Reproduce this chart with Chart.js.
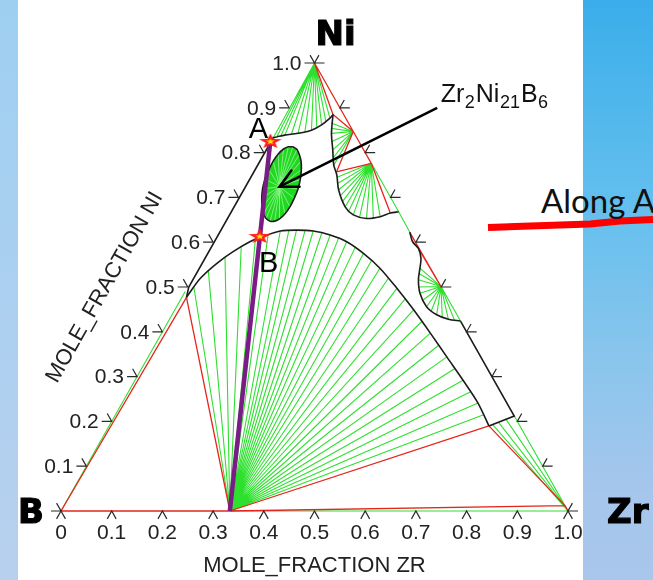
<!DOCTYPE html>
<html lang="en">
<head>
<meta charset="utf-8">
<title>B–Ni–Zr isothermal section</title>
<script src="https://cdn.jsdelivr.net/npm/chart.js@4.4.1/dist/chart.umd.min.js"></script>
<style>
  html, body { margin: 0; padding: 0; }
  body {
    position: relative; width: 653px; height: 580px; overflow: hidden;
    background: linear-gradient(to bottom, #3aadea 0%, #52b8ec 20%, #67c0ee 38%, #8ac5ec 62%, #a6c6ec 85%, #a9c6ec 100%);
  }
  #strip { position: absolute; left: 0; top: 0; width: 18px; height: 580px; background: linear-gradient(to bottom, #9ecff2, #b8d0ee); }
  #panel { position: absolute; left: 18px; top: 0; width: 565px; height: 580px; background: #fff; }
  #marker { position: absolute; left: 0; top: 0; }
  #along {
    position: absolute; left: 541px; top: 184px;
    font-family: Lato, "Open Sans", sans-serif; font-size: 33px; line-height: 33px;
    color: #111; white-space: nowrap;
  }
  #chart { position: absolute; left: 0; top: 0; }
</style>
</head>
<body>
<div id="strip"></div>
<div id="panel"></div>
<svg id="marker" width="653" height="580"><polyline points="488,227.5 590,224 620,221 653,219.5" fill="none" stroke="#ff0000" stroke-width="7"/></svg>
<div id="along">Along A</div>
<canvas id="chart" width="653" height="580"></canvas>
<script>
// Every composition is [x(Zr), x(Ni)] in mole fraction; x(B) = 1 - x(Zr) - x(Ni).

const FRACTION_STEPS = [0, 0.1, 0.2, 0.3, 0.4, 0.5, 0.6, 0.7, 0.8, 0.9, 1.0];
const NI_AXIS_LABELS = ['0.1', '0.2', '0.3', '0.4', '0.5', '0.6', '0.7', '0.8', '0.9', '1.0'];

const cornerB = [0, 0];
const cornerZr = [1, 0];
const cornerNi = [0, 1];

const ZrB2 = [0.333, 0];
const Zr2Ni21B6 = [0.069, 0.724];
const pointA = [0, 0.826];
const pointB = [0.085, 0.614];
const compoundLabelAnchor = [0.292, 0.900];

// corners of the three-phase triangles
const L1 = [0.009, 0.477];
const L2 = [0.749, 0.190];
const L3 = [0.788, 0.212];
const zrSideQ = [0.988, 0.012];
const edgeBNi = [0, 0.49];
const cusp = [0.094, 0.885];
const P1 = [0.153, 0.847];
const T2 = [0.165, 0.757];
const P2 = [0.224, 0.776];
const P3 = [0.317, 0.665];
const edgeC2 = [0.332, 0.668];
const hookTop = [0.377, 0.622];
const hookInner = [0.412, 0.586];
const P4 = [0.499, 0.501];
const edgeC3 = [0.576, 0.424];

// liquid boundaries
const domeBoundary = [
  [0.009, 0.477], [0.015, 0.519], [0.031, 0.553], [0.050, 0.579], [0.072, 0.601],
  [0.090, 0.612], [0.120, 0.625], [0.151, 0.627], [0.185, 0.625], [0.223, 0.616],
  [0.263, 0.601], [0.309, 0.575], [0.358, 0.542], [0.414, 0.497], [0.471, 0.449],
  [0.530, 0.397], [0.589, 0.344], [0.647, 0.292], [0.702, 0.241], [0.749, 0.190]
];
const niRichArc = [
  [0.008, 0.835], [0.022, 0.839], [0.046, 0.843], [0.069, 0.850], [0.083, 0.862],
  [0.092, 0.877], [0.094, 0.885]
];
const niZrArc = [
  [0.094, 0.885], [0.112, 0.843], [0.133, 0.806], [0.152, 0.772], [0.169, 0.750],
  [0.189, 0.717], [0.221, 0.679], [0.246, 0.661], [0.276, 0.653], [0.301, 0.657],
  [0.317, 0.665], [0.332, 0.668]
];
const niZrHook = [
  [0.377, 0.622], [0.393, 0.601], [0.412, 0.586], [0.428, 0.564], [0.437, 0.542],
  [0.447, 0.516], [0.465, 0.486], [0.493, 0.456], [0.522, 0.438], [0.550, 0.428],
  [0.576, 0.424]
];
const bNiEdgeLiquid = [[0.009, 0.477], [0.002, 0.500], [0.002, 0.833], [0.008, 0.835]];
const zrSideLiquid = [[0.576, 0.424], [0.788, 0.212], [0.749, 0.190]];

// single-phase field of Zr2Ni21B6
const compoundField = [
  [0.051, 0.813], [0.062, 0.807], [0.072, 0.796], [0.083, 0.781], [0.093, 0.762], [0.102, 0.740],
  [0.108, 0.719], [0.111, 0.698], [0.112, 0.679], [0.110, 0.663], [0.105, 0.652], [0.098, 0.647],
  [0.089, 0.647], [0.078, 0.653], [0.068, 0.663], [0.057, 0.679], [0.047, 0.698], [0.038, 0.719],
  [0.032, 0.741], [0.029, 0.762], [0.028, 0.781], [0.030, 0.797], [0.035, 0.808], [0.042, 0.813],
  [0.051, 0.813]
];

// tie-line ends
const domeTieEnds = [
  [0.012, 0.500], [0.022, 0.537], [0.040, 0.567], [0.060, 0.591], [0.080, 0.607], [0.100, 0.617],
  [0.120, 0.625], [0.136, 0.627], [0.151, 0.627], [0.168, 0.627], [0.185, 0.625], [0.204, 0.621],
  [0.223, 0.616], [0.243, 0.609], [0.263, 0.601], [0.286, 0.589], [0.309, 0.575], [0.333, 0.559],
  [0.358, 0.542], [0.386, 0.520], [0.414, 0.497], [0.442, 0.473], [0.471, 0.449], [0.500, 0.423],
  [0.530, 0.397], [0.560, 0.370], [0.589, 0.344], [0.618, 0.318], [0.647, 0.292], [0.675, 0.266],
  [0.702, 0.241], [0.726, 0.215]
];
const niFanEnds = [
  [0.002, 0.835], [0.008, 0.835], [0.015, 0.837], [0.022, 0.839], [0.034, 0.841], [0.046, 0.843],
  [0.058, 0.846], [0.069, 0.850], [0.077, 0.855], [0.083, 0.862], [0.088, 0.869], [0.092, 0.877]
];
const p1FanEnds = [[0.100, 0.866], [0.106, 0.854], [0.112, 0.843], [0.122, 0.825], [0.133, 0.806], [0.143, 0.789], [0.152, 0.772]];
const p2FanEnds = [
  [0.172, 0.745], [0.180, 0.731], [0.189, 0.717], [0.199, 0.704], [0.210, 0.691], [0.221, 0.679],
  [0.233, 0.669], [0.246, 0.661], [0.261, 0.656], [0.276, 0.653], [0.289, 0.654], [0.301, 0.657]
];
const p4FanEnds = [
  [0.437, 0.542], [0.441, 0.530], [0.447, 0.516], [0.455, 0.500], [0.465, 0.486], [0.478, 0.470],
  [0.493, 0.456], [0.507, 0.446], [0.522, 0.438], [0.536, 0.432], [0.550, 0.428], [0.563, 0.426]
];
const zrFanEnds = [[0.755, 0.193], [0.764, 0.198], [0.775, 0.205], [0.788, 0.212]];

// ---- geometry helpers: ternary composition -> cartesian chart coordinates ----
const toXY = ([zr, ni]) => ({ x: zr + ni / 2, y: ni });
const path = pts => pts.map(toXY);
const segments = pairs => {
  const out = [];
  pairs.forEach(([p, q], i) => {
    if (i) out.push({ x: null, y: null });
    out.push(toXY(p), toXY(q));
  });
  return out;
};
const fanPairs = (origin, ends) => ends.map(e => [origin, e]);

const GREEN = '#2ee02e';
const RED = '#e5261f';
const BLACK = '#1c1c1c';
const PURPLE = '#7a1c86';

const greenPairs = [
  ...fanPairs(cornerNi, niFanEnds),
  ...fanPairs(P1, p1FanEnds),
  ...fanPairs(P2, p2FanEnds),
  ...fanPairs(P4, p4FanEnds),
  ...fanPairs(ZrB2, domeTieEnds),
  ...fanPairs(cornerZr, zrFanEnds),
  [cornerB, edgeBNi], [P2, edgeC2], [edgeC2, hookTop], [P4, edgeC3], [ZrB2, cornerZr]
];
const redPairs = [
  [cornerB, ZrB2], [cornerB, L1], [ZrB2, L1], [ZrB2, L2], [ZrB2, zrSideQ], [L2, zrSideQ], [zrSideQ, cornerZr],
  [cornerNi, cusp], [cornerNi, P1], [cusp, P1],
  [P1, T2], [P1, P2], [T2, P2], [P2, P3],
  [hookTop, P4], [hookInner, P4]
];

function lineSet(data, color, width, order, extra) {
  return Object.assign({
    data, showLine: true, borderColor: color, backgroundColor: color, borderWidth: width,
    pointRadius: 0, pointHoverRadius: 0, spanGaps: false, clip: false, tension: 0, order
  }, extra || {});
}

function starMarker() {
  const c = document.createElement('canvas');
  c.width = 24; c.height = 16;
  const g = c.getContext('2d');
  const star = (rx, ry, color) => {
    g.beginPath();
    for (let i = 0; i < 10; i++) {
      const r = i % 2 ? 0.42 : 1;
      const a = -Math.PI / 2 + i * Math.PI / 5;
      g.lineTo(12 + Math.cos(a) * rx * r, 8.6 + Math.sin(a) * ry * r);
    }
    g.closePath();
    g.fillStyle = color;
    g.fill();
  };
  star(12, 8, '#ff1c1c');
  star(4.5, 3.2, '#ffe600');
  return c;
}

const datasets = [
  lineSet(path(compoundField), 'rgba(0,0,0,0)', 0, 9, { fill: 'shape', backgroundColor: '#20d820' }),
  lineSet(segments(fanPairs(Zr2Ni21B6, compoundField.slice(0, -1))), '#8cf08c', 0.9, 8),
  lineSet(segments(greenPairs), GREEN, 1.1, 7),
  lineSet(segments(redPairs), RED, 1.3, 6),
  lineSet(path(domeBoundary), BLACK, 1.6, 5, { tension: 0.3 }),
  lineSet(path(niRichArc), BLACK, 1.6, 5, { tension: 0.3 }),
  lineSet(path(niZrArc), BLACK, 1.6, 5, { tension: 0.3 }),
  lineSet(path(niZrHook), BLACK, 1.6, 5, { tension: 0.3 }),
  lineSet(path(bNiEdgeLiquid), BLACK, 1.6, 5),
  lineSet(path(zrSideLiquid), BLACK, 1.6, 5),
  lineSet(path(compoundField), BLACK, 1.6, 5, { tension: 0.2 }),
  lineSet(path([pointA, ZrB2]), PURPLE, 4.5, 3),
  lineSet(path([compoundLabelAnchor, Zr2Ni21B6]), '#000', 2.6, 2),
  { data: path([pointA, pointB]), showLine: false, pointStyle: starMarker(), pointRadius: 8, clip: false, order: 1 }
];

const FONT = '"Liberation Sans", Arial, sans-serif';

const ternaryFrame = {
  id: 'ternaryFrame',
  afterDatasetsDraw(chart) {
    const { ctx } = chart;
    const xs = chart.scales.x, ys = chart.scales.y;
    const px = c => { const p = toXY(c); return [xs.getPixelForValue(p.x), ys.getPixelForValue(p.y)]; };
    const unit = (dx, dy) => { const l = Math.hypot(dx, dy); return [dx / l, dy / l]; };
    const [bX, bY] = px(cornerB), [zX, zY] = px(cornerZr), [nX, nY] = px(cornerNi);
    const upRight = unit(nX - bX, nY - bY);   // along the B–Ni side
    const upLeft = unit(nX - zX, nY - zY);    // along the Zr–Ni side
    const ARM = 9, BAR = 10;
    const poly = pts => {
      ctx.beginPath();
      ctx.moveTo(pts[0][0], pts[0][1]);
      for (let i = 1; i < pts.length; i++) ctx.lineTo(pts[i][0], pts[i][1]);
      ctx.stroke();
    };

    ctx.save();
    // tick marks on the three sides
    ctx.strokeStyle = '#2a2a2a';
    ctx.lineWidth = 1.2;
    FRACTION_STEPS.forEach(f => {
      let [ex, ey] = px([0, f]);
      poly([[ex - BAR, ey], [ex, ey], [ex + upLeft[0] * ARM, ey + upLeft[1] * ARM]]);
      [ex, ey] = px([1 - f, f]);
      poly([[ex + BAR, ey], [ex, ey], [ex + upRight[0] * ARM, ey + upRight[1] * ARM]]);
      [ex, ey] = px([f, 0]);
      poly([[ex - upRight[0] * ARM, ey - upRight[1] * ARM], [ex, ey], [ex - upLeft[0] * ARM, ey - upLeft[1] * ARM]]);
    });

    // x(Ni) labels along the B–Ni side
    ctx.fillStyle = '#222';
    ctx.font = '21px ' + FONT;
    ctx.textAlign = 'right';
    ctx.textBaseline = 'middle';
    NI_AXIS_LABELS.forEach((t, i) => {
      const [ex, ey] = px([0, FRACTION_STEPS[i + 1]]);
      ctx.fillText(t, ex - BAR - 3, ey + 1);
    });

    // slanted axis title
    const [tx, ty] = px([0, 0.42]);
    const normal = [upRight[1], -upRight[0]];
    ctx.save();
    ctx.translate(tx + normal[0] * 72, ty + normal[1] * 72);
    ctx.rotate(Math.atan2(upRight[1], upRight[0]));
    ctx.textAlign = 'center';
    ctx.font = '22px ' + FONT;
    ctx.fillText('MOLE_FRACTION NI', 0, 0);
    ctx.restore();

    // element names at the corners
    ctx.font = 'bold 34px "DejaVu Sans", sans-serif';
    ctx.textBaseline = 'alphabetic';
    ctx.fillStyle = '#000';
    ctx.strokeStyle = '#000';
    ctx.lineWidth = 1.2;
    const heavy = (t, x, y, align) => { ctx.textAlign = align; ctx.fillText(t, x, y); ctx.strokeText(t, x, y); };
    heavy('Ni', nX + 21, nY - 18, 'center');
    heavy('B', bX - 30, bY + 12, 'center');
    heavy('Zr', zX + 39, zY + 12, 'left');

    // section end points
    ctx.font = '29px ' + FONT;
    const [aX, aY] = px(pointA);
    const [pbX, pbY] = px(pointB);
    ctx.textAlign = 'center';
    ctx.fillText('A', aX - 12, aY - 3);
    ctx.fillText('B', pbX + 9, pbY + 36);

    // arrow head on the leader line
    const [hX, hY] = px(Zr2Ni21B6);
    const [lX, lY] = px(compoundLabelAnchor);
    const ang = Math.atan2(lY - hY, lX - hX);
    const HEAD = 20, SPREAD = 27 * Math.PI / 180;
    ctx.strokeStyle = '#000';
    ctx.lineWidth = 2.6;
    ctx.lineCap = 'round';
    poly([
      [hX + Math.cos(ang - SPREAD) * HEAD, hY + Math.sin(ang - SPREAD) * HEAD],
      [hX, hY],
      [hX + Math.cos(ang + SPREAD) * HEAD, hY + Math.sin(ang + SPREAD) * HEAD]
    ]);

    // Zr2Ni21B6 formula with subscripts
    const parts = [['Zr', false], ['2', true], ['Ni', false], ['21', true], ['B', false], ['6', true]];
    let cx = lX + 3.5;
    const base = lY - 6.3;
    ctx.textAlign = 'left';
    ctx.fillStyle = '#111';
    parts.forEach(([t, sub]) => {
      ctx.font = (sub ? '18px ' : '25px ') + FONT;
      ctx.fillText(t, cx, sub ? base + 6.6 : base);
      cx += ctx.measureText(t).width + (sub ? 1 : 0.5);
    });
    ctx.restore();
  }
};

Chart.defaults.font.family = FONT;

new Chart(document.getElementById('chart'), {
  type: 'scatter',
  data: { datasets },
  options: {
    responsive: false,
    animation: false,
    devicePixelRatio: 1,
    events: [],
    layout: { padding: { left: 61, right: 85, top: 63, bottom: 0 } },
    plugins: { legend: { display: false }, tooltip: { enabled: false } },
    scales: {
      x: {
        type: 'linear', min: 0, max: 1, position: 'bottom',
        grid: { display: false, drawTicks: false },
        border: { display: false },
        ticks: {
          stepSize: 0.1, autoSkip: false, maxRotation: 0, minRotation: 0, padding: 11.5,
          color: '#222', font: { size: 21, lineHeight: 1 },
          callback: v => (v === 0 ? '0' : Number(v).toFixed(1))
        },
        title: {
          display: true, text: 'MOLE_FRACTION ZR', color: '#222',
          font: { size: 22, lineHeight: 1 }, padding: { top: 0, bottom: 3 }
        }
      },
      y: { type: 'linear', min: 0, max: 1, display: false }
    }
  },
  plugins: [ternaryFrame]
});
</script>
</body>
</html>
